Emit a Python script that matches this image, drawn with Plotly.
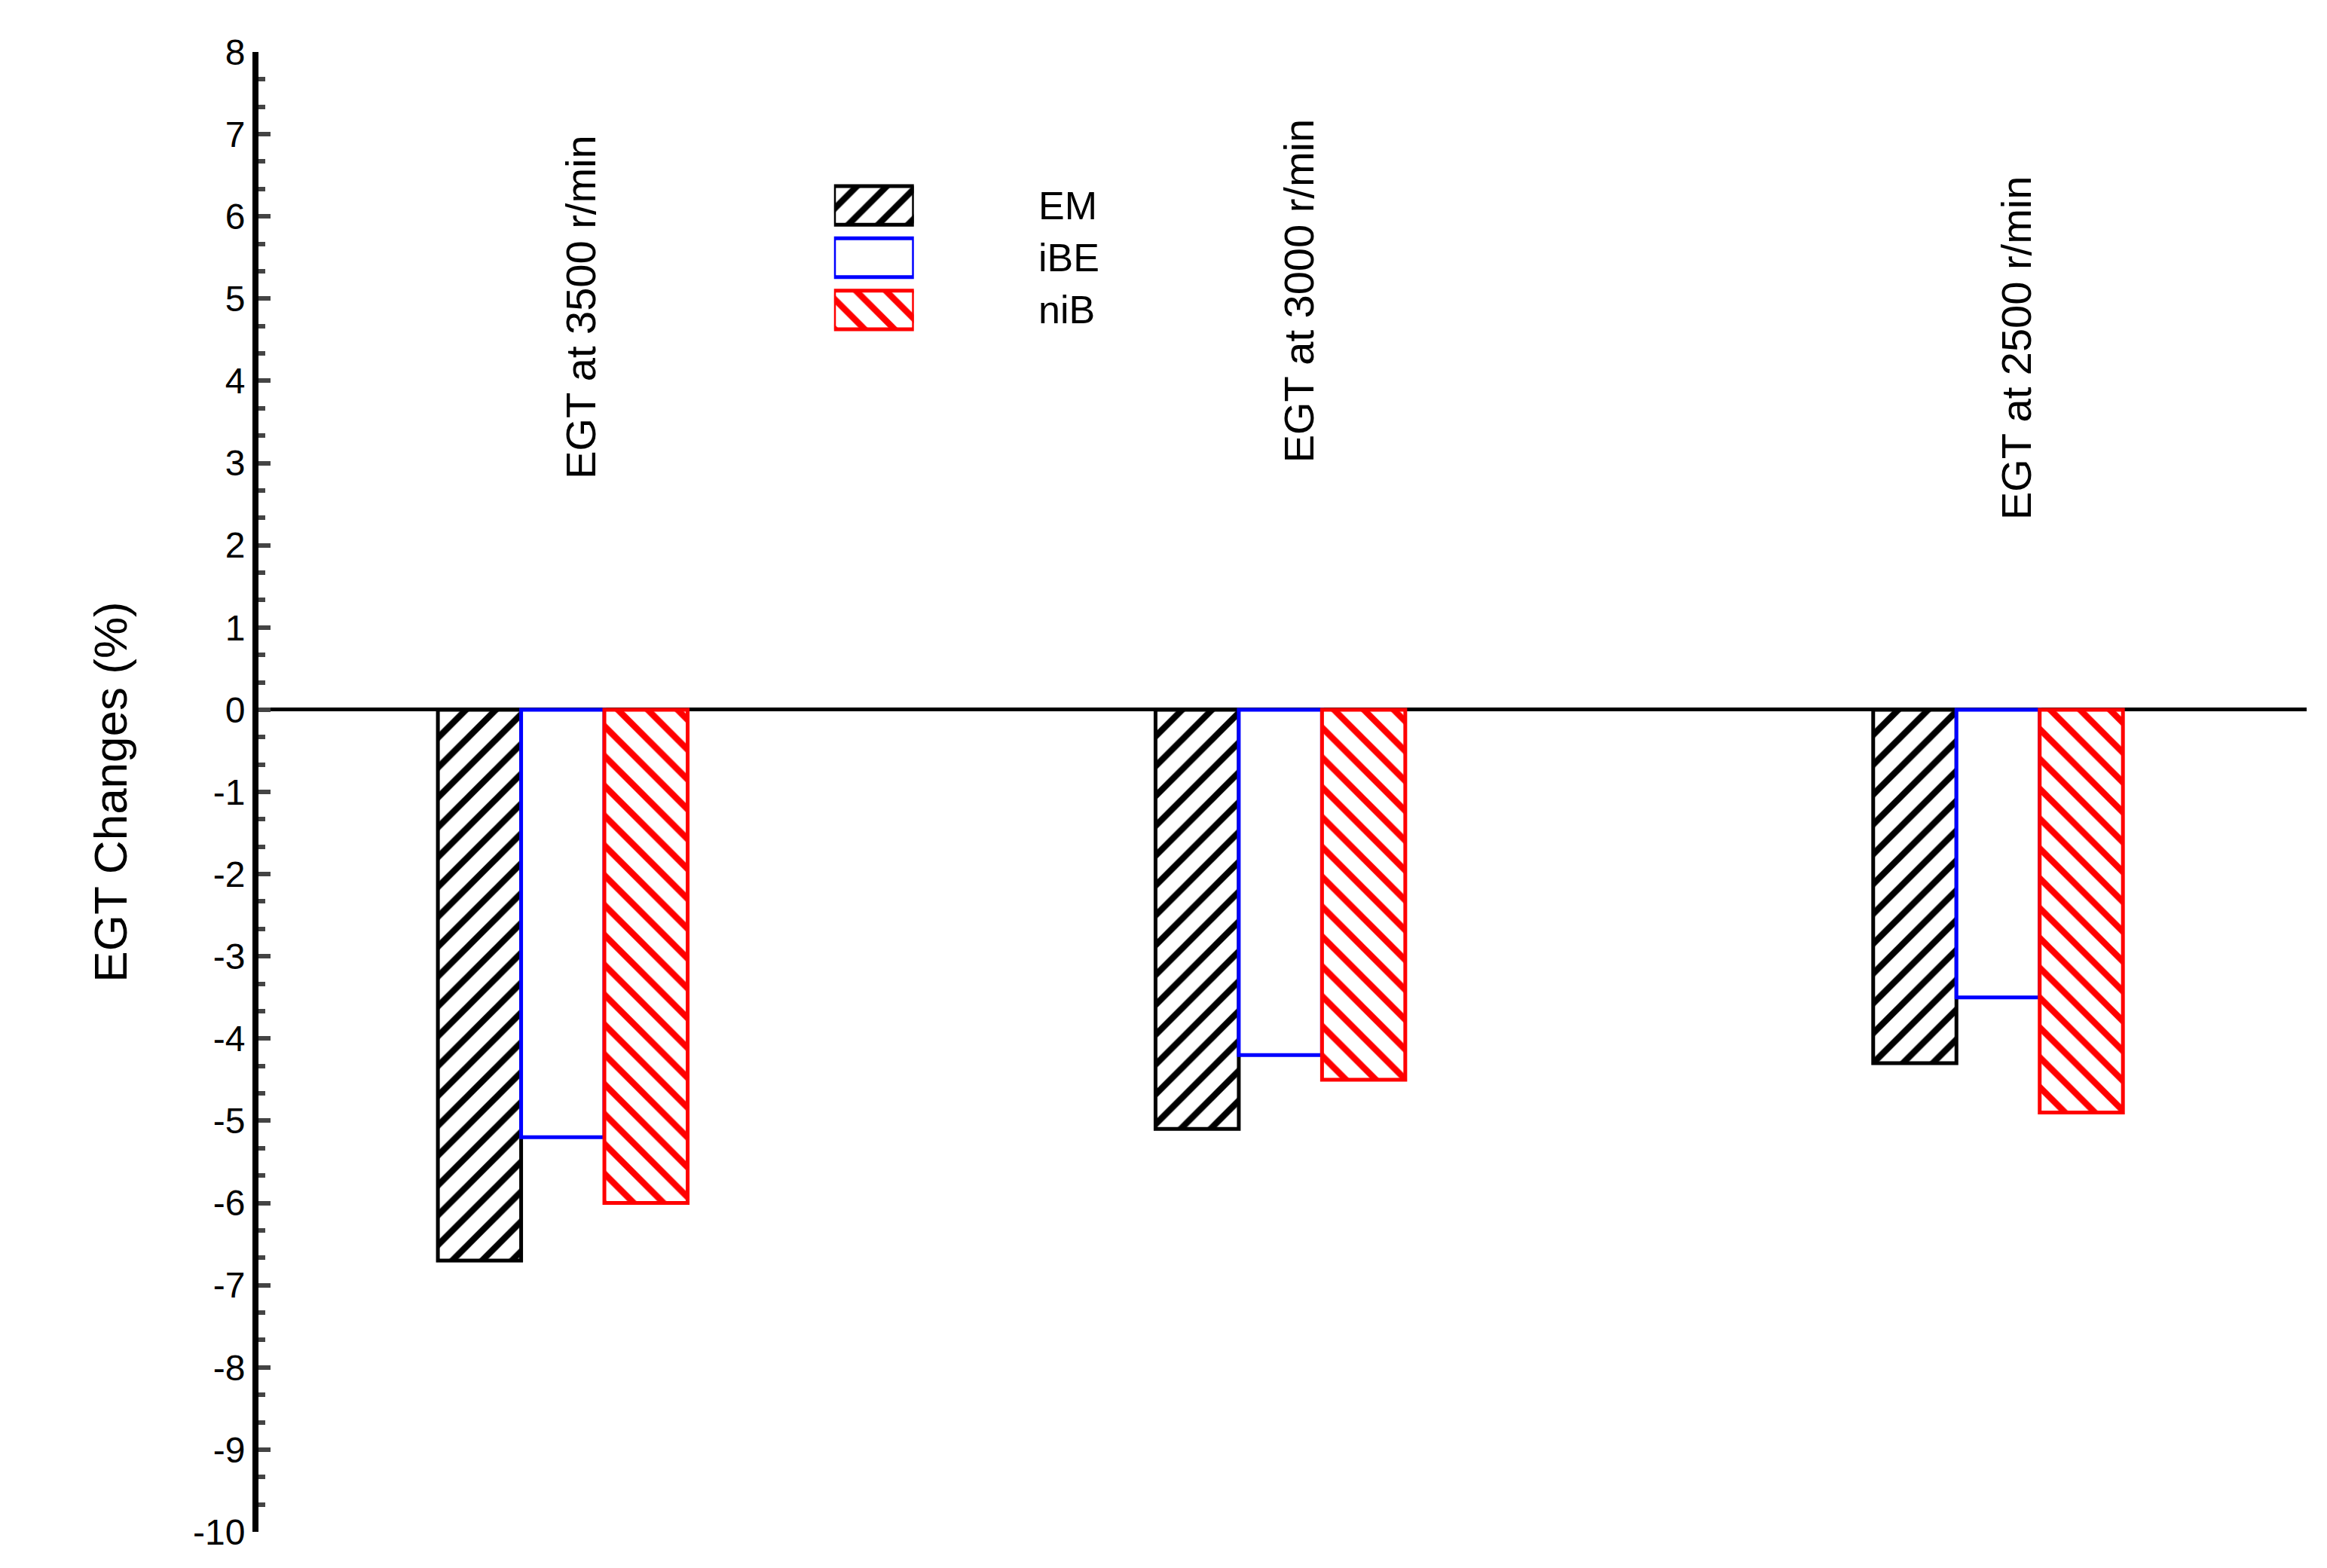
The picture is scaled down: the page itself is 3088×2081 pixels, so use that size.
import plotly.graph_objects as go

groups = [1, 2, 3]
group_labels = ["EGT at 3500 r/min", "EGT at 3000 r/min", "EGT at 2500 r/min"]
series_names = ["EM", "iBE", "niB"]
em = [-6.7, -5.1, -4.3]
ibe = [-5.2, -4.2, -3.5]
nib = [-6.0, -4.5, -4.9]
label_y = [4.9, 5.1, 4.4]
yticks = list(range(-10, 9))

styles = {
    "EM": dict(color="white", line=dict(color="black", width=5),
               pattern=dict(shape="/", fgcolor="black", fgopacity=1, size=28, solidity=0.3)),
    "iBE": dict(color="white", line=dict(color="#0000ff", width=5)),
    "niB": dict(color="white", line=dict(color="#ff0000", width=5),
                pattern=dict(shape="\\", fgcolor="#ff0000", fgopacity=1, size=28, solidity=0.3)),
}

fig = go.Figure()
for name, vals in zip(series_names, [em, ibe, nib]):
    fig.add_trace(go.Bar(x=groups, y=vals, name=name, marker=styles[name], showlegend=False))

# legend swatches drawn as small bars in their own axes
for i, name in enumerate(series_names):
    fig.add_trace(go.Bar(x=[1], y=[i], orientation="h", marker=styles[name],
                         xaxis="x2", yaxis="y2", showlegend=False, hoverinfo="skip"))
    fig.add_annotation(xref="paper", yref="y2", x=0.38, y=i, text=name, showarrow=False,
                       xanchor="left", font=dict(size=52, color="black"))

for x, t, y in zip(groups, group_labels, label_y):
    fig.add_annotation(x=x + 0.025, y=y, text=t, textangle=-90, showarrow=False,
                       font=dict(size=56, color="black"))

fig.update_layout(
    width=3088, height=2081,
    paper_bgcolor="white", plot_bgcolor="white",
    font=dict(family="Liberation Sans, Arial", color="black"),
    margin=dict(l=335, r=35, t=61, b=56),
    barmode="group", bargap=0.652, bargroupgap=0,
    showlegend=False,
    xaxis=dict(range=[0.576, 3.43], showticklabels=False, ticks="", showgrid=False,
               zeroline=False, showline=False),
    yaxis=dict(range=[-10, 8], tickvals=yticks, ticktext=[str(v) for v in yticks],
               showgrid=False, showline=True, linewidth=8,
               linecolor="black", ticks="inside", ticklen=16, tickwidth=6,
               tickfont=dict(size=48),
               minor=dict(ticks="inside", ticklen=9, tickwidth=6, dtick=1/3),
               zeroline=True, zerolinecolor="black", zerolinewidth=5,
               title=dict(text="EGT Changes (%)", font=dict(size=62), standoff=70)),
    xaxis2=dict(domain=[0.281, 0.320], range=[0, 1], visible=False, anchor="y2"),
    yaxis2=dict(domain=[0.808, 0.914], range=[2.5, -0.5], visible=False, anchor="x2"),
)
fig.update_traces(width=0.74, selector=dict(xaxis="x2"))

fig.write_html("out.html")
